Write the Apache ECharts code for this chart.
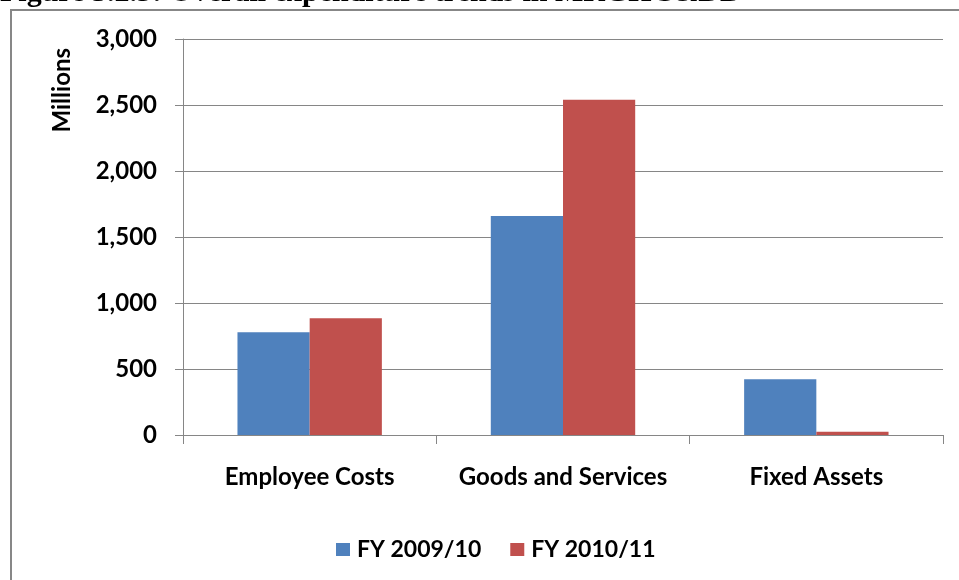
<!DOCTYPE html>
<html>
<head>
<meta charset="utf-8">
<script src="https://cdn.jsdelivr.net/npm/echarts@6/dist/echarts.min.js"></script>
<style>
  html, body { margin: 0; padding: 0; background: #ffffff; }
  #chart { width: 959px; height: 580px; }
</style>
</head>
<body>
<div id="chart"></div>
<script>
// Expenditure by item, in millions
const categories = ['Employee Costs', 'Goods and Services', 'Fixed Assets'];
const fy0910 = [778, 1659, 422];
const fy1011 = [884, 2540, 25];
const seriesNames = ['FY 2009/10', 'FY 2010/11'];
const yTicks = [0, 500, 1000, 1500, 2000, 2500, 3000];

const FONT = 'Lato, "Open Sans", sans-serif';
const AXIS_GREY = '#868686';

const chart = echarts.init(document.getElementById('chart'), null, { renderer: 'canvas' });

chart.setOption({
  backgroundColor: '#ffffff',
  animation: false,
  graphic: [
    {
      type: 'text',
      left: 0,
      top: -22,
      style: {
        text: 'Figure 5.2.3: Overall expenditure trends in MRGHC&DD',
        font: 'bold 30px "Liberation Serif", "Times New Roman", serif',
        fill: '#000000'
      },
      z: 10
    },
    {
      type: 'rect',
      shape: { x: 11, y: 10, width: 960, height: 600 },
      style: { fill: 'none', stroke: '#878787', lineWidth: 2 },
      z: 5
    },
    {
      type: 'text',
      left: 50,
      top: 48,
      rotation: Math.PI / 2,
      style: {
        text: 'Millions',
        font: 'bold 24px ' + FONT,
        fill: '#000000'
      }
    }
  ],
  legend: {
    data: seriesNames,
    top: 533,
    left: 331,
    itemWidth: 14,
    itemHeight: 13,
    itemGap: 29,
    icon: 'rect',
    textStyle: { fontFamily: FONT, fontWeight: 'bold', fontSize: 23, color: '#000000', padding: [0, 0, 0, 2] }
  },
  grid: { left: 183, right: 16, top: 39, bottom: 145, containLabel: false },
  xAxis: {
    type: 'category',
    data: categories,
    axisLine: { show: true, lineStyle: { color: AXIS_GREY, width: 1 } },
    axisTick: { show: true, length: 9, alignWithLabel: false, lineStyle: { color: AXIS_GREY } },
    axisLabel: {
      interval: 0,
      hideOverlap: false,
      margin: 30,
      fontFamily: FONT,
      fontWeight: 'bold',
      fontSize: 24,
      color: '#000000'
    },
    splitLine: { show: false }
  },
  yAxis: {
    type: 'value',
    min: yTicks[0],
    max: yTicks[yTicks.length - 1],
    interval: yTicks[1] - yTicks[0],
    axisLine: { show: true, lineStyle: { color: AXIS_GREY, width: 1 } },
    axisTick: { show: true, length: 8, inside: false, lineStyle: { color: AXIS_GREY } },
    axisLabel: {
      margin: 26,
      fontFamily: FONT,
      fontWeight: 'bold',
      fontSize: 24,
      color: '#000000',
      formatter: v => v.toLocaleString('en-US')
    },
    splitLine: { show: true, lineStyle: { color: AXIS_GREY, width: 1 } }
  },
  series: [
    {
      name: seriesNames[0],
      type: 'bar',
      data: fy0910,
      barGap: '0%',
      barCategoryGap: '43%',
      itemStyle: { color: '#4F81BD' }
    },
    {
      name: seriesNames[1],
      type: 'bar',
      data: fy1011,
      barGap: '0%',
      barCategoryGap: '43%',
      itemStyle: { color: '#C0504D' }
    }
  ]
});
</script>
</body>
</html>
